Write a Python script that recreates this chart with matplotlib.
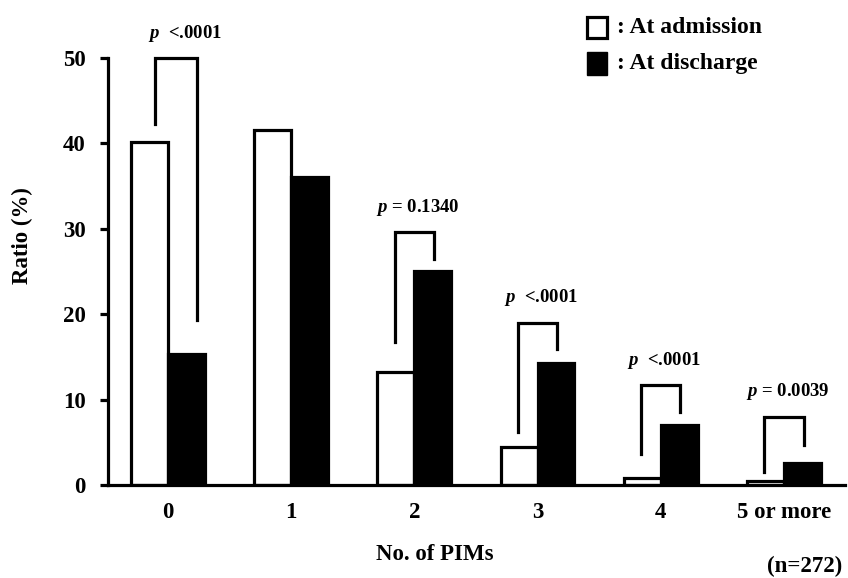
import numpy as np
import matplotlib.pyplot as plt

plt.rcParams['font.family'] = ['Liberation Serif', 'DejaVu Serif']
plt.rcParams['mathtext.fontset'] = 'custom'
plt.rcParams['mathtext.it'] = 'Liberation Serif:italic:bold'
plt.rcParams['mathtext.rm'] = 'Liberation Serif:bold'

categories = ['0', '1', '2', '3', '4', '5 or more']
admission = [40.1, 41.5, 13.2, 4.4, 0.8, 0.5]
discharge = [15.3, 36.0, 25.0, 14.3, 7.0, 2.6]

# significance brackets: category index, top, left leg bottom, right leg bottom, label
sig_cat = [0, 2, 3, 4, 5]
sig_top = [50.0, 29.6, 19.0, 11.7, 8.0]
sig_left = [42.2, 16.7, 6.2, 3.6, 1.5]
sig_right = [19.3, 26.5, 15.9, 8.5, 4.7]
sig_text = ['$p$  <.0001', '$p$ = 0.1340', '$p$  <.0001', '$p$  <.0001', '$p$ = 0.0039']

fig = plt.figure(figsize=(8.48, 5.78), dpi=100)
ax = fig.add_axes([0.127, 0.161, 0.87, 0.739])

x = np.arange(len(categories))
w = 0.3
ax.bar(x - w / 2, admission, w, color='white', edgecolor='black', linewidth=2.3)
ax.bar(x + w / 2, discharge, w, color='black', edgecolor='black', linewidth=2.3)

for i, c in enumerate(sig_cat):
    if c == 0:
        xl, xr, tx = c - 0.105, c + 0.235, c + 0.14
    else:
        xl, xr, tx = c - 0.16, c + 0.16, c + 0.03
    ax.plot([xl, xl, xr, xr], [sig_left[i], sig_top[i], sig_top[i], sig_right[i]],
            color='black', linewidth=2.3, clip_on=False, solid_joinstyle='miter')
    ax.text(tx, sig_top[i] + 2.9, sig_text[i], ha='center', va='center',
            fontsize=13.5, fontweight='bold')

ax.set_xlim(-0.49, 5.5)
ax.set_ylim(0, 50)
ax.set_yticks([0, 10, 20, 30, 40, 50])
ax.set_xticks(x)
ax.set_xticklabels(categories)
for s in ['top', 'right']:
    ax.spines[s].set_visible(False)
ax.spines['left'].set_linewidth(2.3)
ax.spines['bottom'].set_linewidth(2.3)
ax.tick_params(axis='y', length=5.8, width=2.3, labelsize=16.5, pad=10)
ax.tick_params(axis='x', length=0, labelsize=16.5, pad=12)
for lab in ax.get_xticklabels() + ax.get_yticklabels():
    lab.set_fontweight('bold')

fig.text(0.027, 0.592, 'Ratio (%)', rotation=90, ha='center', va='center',
         fontsize=16.5, fontweight='bold')
fig.text(0.513, 0.04, 'No. of PIMs', ha='center', va='center',
         fontsize=16.5, fontweight='bold')
fig.text(0.949, 0.02, '(n=272)', ha='center', va='center',
         fontsize=16.5, fontweight='bold')

# legend drawn as squares with text
fig.patches.append(plt.Rectangle((0.692, 0.935), 0.024, 0.036, transform=fig.transFigure,
                                 facecolor='white', edgecolor='black', linewidth=2.3))
fig.patches.append(plt.Rectangle((0.692, 0.87), 0.024, 0.04, transform=fig.transFigure,
                                 facecolor='black', edgecolor='black', linewidth=1))
fig.text(0.728, 0.953, ': At admission', ha='left', va='center', fontsize=17, fontweight='bold')
fig.text(0.728, 0.89, ': At discharge', ha='left', va='center', fontsize=17, fontweight='bold')

fig.savefig('out.png', dpi=100)
